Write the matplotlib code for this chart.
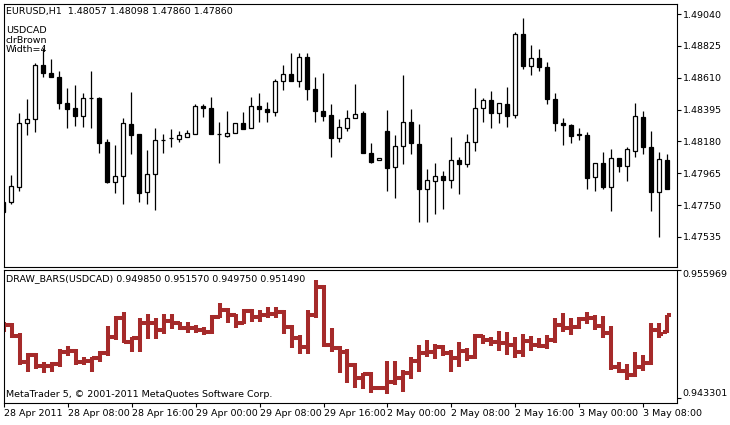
import matplotlib
matplotlib.use("Agg")
import matplotlib.pyplot as plt
import numpy as np

# EURUSD H1 candles (main panel)
eu_open = [1.47703,1.47771,1.47872,1.48304,1.48331,1.48696,1.48642,1.48615,1.48439,1.48406,
           1.48352,1.48473,1.48473,1.48176,1.47906,1.47946,1.48298,1.48230,1.47838,1.47960,
           1.48190,1.48203,1.48196,1.48210,1.48230,1.48419,1.48406,1.48230,1.48217,1.48237,
           1.48304,1.48271,1.48419,1.48399,1.48379,1.48588,1.48635,1.48588,1.48750,1.48534,
           1.48385,1.48358,1.48203,1.48271,1.48338,1.48372,1.48102,1.48055,1.48250,1.48007,
           1.48149,1.48311,1.48163,1.47859,1.47913,1.47946,1.47919,1.48055,1.48028,1.48176,
           1.48406,1.48460,1.48372,1.48433,1.48358,1.48905,1.48689,1.48743,1.48682,1.48466,
           1.48304,1.48291,1.48230,1.48223,1.47940,1.48034,1.47872,1.48068,1.48014,1.48115,
           1.48345,1.48143,1.47838,1.48057]
eu_high = [1.47785,1.47953,1.48372,1.48466,1.48709,1.48810,1.48736,1.48655,1.48540,1.48561,
           1.48507,1.48655,1.48480,1.48196,1.48156,1.48338,1.48514,1.48230,1.48122,1.48271,
           1.48230,1.48264,1.48250,1.48257,1.48433,1.48433,1.48480,1.48311,1.48385,1.48304,
           1.48379,1.48480,1.48507,1.48446,1.48601,1.48696,1.48777,1.48777,1.48777,1.48615,
           1.48642,1.48433,1.48331,1.48392,1.48568,1.48385,1.48170,1.48068,1.48392,1.48223,
           1.48628,1.48399,1.48298,1.47994,1.48034,1.47980,1.48210,1.48075,1.48230,1.48540,
           1.48473,1.48520,1.48439,1.48547,1.48919,1.49013,1.48831,1.48804,1.48716,1.48507,
           1.48338,1.48298,1.48271,1.48244,1.48034,1.48109,1.48129,1.48068,1.48143,1.48439,
           1.48385,1.48250,1.48109,1.48098]
eu_low = [1.47683,1.47758,1.47845,1.48223,1.48244,1.48615,1.48615,1.48399,1.48271,1.48284,
          1.48277,1.48271,1.48102,1.47899,1.47832,1.47758,1.48095,1.47771,1.47758,1.47717,
          1.48102,1.48143,1.48176,1.48210,1.48230,1.48345,1.48230,1.48034,1.48210,1.48237,
          1.48264,1.48271,1.48311,1.48311,1.48352,1.48527,1.48588,1.48547,1.48460,1.48311,
          1.48318,1.48075,1.48176,1.48250,1.48338,1.48102,1.48034,1.48055,1.47845,1.47798,
          1.48028,1.48095,1.47636,1.47636,1.47690,1.47724,1.47865,1.47825,1.48007,1.48115,
          1.48311,1.48271,1.48304,1.48277,1.48338,1.48669,1.48628,1.48655,1.48433,1.48250,
          1.48156,1.48170,1.48190,1.47859,1.47845,1.47859,1.47710,1.47974,1.47913,1.48075,
          1.48095,1.47710,1.47535,1.47860]
eu_close = [1.47771,1.47879,1.48304,1.48331,1.48696,1.48642,1.48615,1.48439,1.48399,1.48352,
            1.48473,1.48473,1.48170,1.47906,1.47946,1.48304,1.48223,1.47832,1.47960,1.48190,
            1.48190,1.48203,1.48223,1.48237,1.48419,1.48406,1.48230,1.48230,1.48237,1.48304,
            1.48264,1.48419,1.48399,1.48379,1.48588,1.48635,1.48588,1.48750,1.48534,1.48385,
            1.48352,1.48203,1.48277,1.48338,1.48365,1.48102,1.48041,1.48068,1.48001,1.48149,
            1.48311,1.48170,1.47859,1.47919,1.47946,1.47919,1.48055,1.48028,1.48176,1.48406,
            1.48460,1.48372,1.48439,1.48352,1.48905,1.48689,1.48743,1.48682,1.48466,1.48304,
            1.48291,1.48217,1.48223,1.47933,1.48034,1.47872,1.48068,1.48014,1.48129,1.48352,
            1.48143,1.47838,1.48061,1.47860]

# USDCAD bars (lower panel)
uc_open = [0.950524,0.950524,0.949468,0.946828,0.947554,0.946465,0.946465,0.946630,0.947818,0.947950,
           0.946894,0.946960,0.947224,0.947719,0.949369,0.951184,0.948874,0.949204,0.950689,0.950689,
           0.950029,0.950920,0.950689,0.950194,0.950260,0.950029,0.949864,0.951349,0.951976,0.951514,
           0.950689,0.951910,0.951349,0.951514,0.951580,0.951844,0.950359,0.949270,0.948379,0.951514,
           0.954319,0.948544,0.948214,0.947884,0.946564,0.945244,0.945640,0.944254,0.944254,0.944914,
           0.945244,0.945739,0.946960,0.947719,0.947884,0.948379,0.947719,0.947224,0.947950,0.947389,
           0.949435,0.949039,0.948874,0.948709,0.948544,0.947884,0.948940,0.948544,0.948478,0.949039,
           0.950524,0.950194,0.950359,0.951118,0.951184,0.950458,0.949699,0.946399,0.945970,0.945574,
           0.946399,0.946729,0.950029,0.949850]
uc_high = [0.950854,0.950689,0.949699,0.947719,0.947719,0.946828,0.946828,0.948148,0.948478,0.948148,
           0.947389,0.947389,0.947950,0.950458,0.951448,0.951844,0.949369,0.951184,0.951580,0.951184,
           0.951580,0.951580,0.950854,0.950788,0.950524,0.950359,0.951514,0.952669,0.952174,0.951580,
           0.952108,0.952108,0.952009,0.952339,0.952339,0.952009,0.950524,0.949534,0.952009,0.954979,
           0.954484,0.950194,0.948478,0.948148,0.946729,0.945739,0.945904,0.944485,0.946960,0.946960,
           0.946069,0.947389,0.948544,0.949039,0.948610,0.948544,0.948049,0.948874,0.948214,0.949600,
           0.949534,0.949336,0.949930,0.949864,0.949369,0.949600,0.949435,0.949270,0.949534,0.951250,
           0.951745,0.951184,0.951349,0.951844,0.951514,0.951415,0.950458,0.946894,0.946630,0.947884,
           0.947554,0.950689,0.950689,0.951570]
uc_low = [0.949798,0.949270,0.946564,0.945838,0.946135,0.945739,0.945838,0.946399,0.947488,0.946564,
          0.946564,0.945904,0.946828,0.947488,0.949039,0.948709,0.947818,0.947818,0.949138,0.949138,
          0.949600,0.950128,0.950029,0.949699,0.949699,0.949534,0.949600,0.951184,0.950689,0.950260,
          0.950590,0.950854,0.950854,0.951184,0.951184,0.949600,0.948214,0.947620,0.947620,0.951250,
          0.948379,0.947884,0.945739,0.944749,0.944254,0.944188,0.943759,0.944089,0.943660,0.944584,
          0.943858,0.945178,0.945904,0.947389,0.947125,0.947488,0.945904,0.946333,0.946993,0.947125,
          0.948610,0.948445,0.947950,0.947554,0.947224,0.947389,0.947950,0.948214,0.948148,0.948709,
          0.949864,0.949534,0.950128,0.950590,0.950029,0.949204,0.946069,0.945739,0.945079,0.945409,
          0.945970,0.946564,0.949204,0.949750]
uc_close = [0.950524,0.949468,0.946828,0.947554,0.946465,0.946465,0.946630,0.947818,0.947950,0.946894,
            0.946960,0.947224,0.947719,0.949369,0.951184,0.948874,0.949204,0.950689,0.950689,0.950029,
            0.950920,0.950689,0.950194,0.950260,0.950029,0.949864,0.951349,0.951976,0.951514,0.950689,
            0.951910,0.951349,0.951514,0.951580,0.951844,0.950359,0.949270,0.948379,0.951514,0.954319,
            0.948544,0.948214,0.947884,0.946564,0.945244,0.945640,0.944254,0.944254,0.944914,0.945244,
            0.945739,0.946960,0.947719,0.947884,0.948379,0.947719,0.947224,0.947950,0.947389,0.949435,
            0.949039,0.948874,0.948709,0.948544,0.947884,0.948940,0.948544,0.948478,0.949039,0.950524,
            0.950194,0.950359,0.951118,0.951184,0.950458,0.949699,0.946399,0.945970,0.945574,0.946399,
            0.946729,0.950029,0.949600,0.951490]

main_ticks = [1.49040, 1.48825, 1.48610, 1.48395, 1.48180, 1.47965, 1.47750, 1.47535]
sub_ticks = [0.955969, 0.943301]
time_labels = ["28 Apr 2011", "28 Apr 08:00", "28 Apr 16:00", "29 Apr 00:00", "29 Apr 08:00",
               "29 Apr 16:00", "2 May 00:00", "2 May 08:00", "2 May 16:00", "3 May 00:00", "3 May 08:00"]

W, H = 730, 425
fig = plt.figure(figsize=(W/100, H/100), dpi=100)
FS = 6.8
ax1 = fig.add_axes([4/W, 1-267/H, 673/W, 263/H])
ax2 = fig.add_axes([4/W, 1-403/H, 673/W, 133/H])

n = len(eu_open)
x = np.arange(n)
o = np.array(eu_open); c = np.array(eu_close)
ax1.vlines(x, eu_low, eu_high, color="black", lw=0.9, zorder=1)
bottoms = np.minimum(o, c)
heights = np.maximum(np.abs(c - o), 0.000015)
fc = ["white" if cc >= oo else "black" for oo, cc in zip(o, c)]
ax1.bar(x, heights, bottom=bottoms, width=0.6, color=fc, edgecolor="black", linewidth=0.9, zorder=2)
ax1.set_xlim(0.125 - 0.5 + 0.5 - 0.125 + 0.125 - 0.0, 84.25)
ax1.set_xlim(0.125, 84.25)
ax1.set_ylim(1.47332, 1.49108)

for i in range(n):
    ax2.plot([i, i], [uc_low[i], uc_high[i]], color="#A52A2A", lw=2.9, solid_capstyle="butt")
    ax2.plot([i - 0.5, i], [uc_open[i]] * 2, color="#A52A2A", lw=2.9, solid_capstyle="butt")
    ax2.plot([i, i + 0.5], [uc_close[i]] * 2, color="#A52A2A", lw=2.9, solid_capstyle="butt")
ax2.set_xlim(0.125, 84.25)
ax2.set_ylim(0.942802, 0.955969 + 0.00002)

for ax in (ax1, ax2):
    for s in ax.spines.values():
        s.set_linewidth(0.8)
        s.set_color("black")
    ax.yaxis.tick_right()
    ax.tick_params(axis="y", direction="out", length=3, width=0.8, labelsize=FS, pad=1)
    ax.tick_params(axis="x", bottom=False, labelbottom=False)

ax1.set_yticks(main_ticks)
ax1.set_yticklabels([f"{v:.5f}" for v in main_ticks])
ax2.set_yticks(sub_ticks)
ax2.set_yticklabels([f"{v:.6f}" for v in sub_ticks])
for lab, va in zip(ax2.get_yticklabels(), ["top", "bottom"]):
    lab.set_va(va)

tick_pos = list(range(0, n, 8))
ax2.set_xticks(tick_pos)
ax2.set_xticklabels(time_labels[:len(tick_pos)])
ax2.tick_params(axis="x", bottom=True, labelbottom=True, direction="out", length=3, width=0.8,
                labelsize=FS, pad=1)
for lab in ax2.get_xticklabels():
    lab.set_ha("left")

ax1.text(2/673, 0.99, "EURUSD,H1  1.48057 1.48098 1.47860 1.47860", transform=ax1.transAxes,
         fontsize=FS, va="top", ha="left")
ax1.text(2/673, 0.915, "USDCAD\nclrBrown\nWidth=4", transform=ax1.transAxes,
         fontsize=FS, va="top", ha="left", linespacing=1.05)
ax2.text(2/673, 0.97, "DRAW_BARS(USDCAD) 0.949850 0.951570 0.949750 0.951490", transform=ax2.transAxes,
         fontsize=FS, va="top", ha="left")
ax2.text(2/673, 0.03, "MetaTrader 5, \u00a9 2001-2011 MetaQuotes Software Corp.", transform=ax2.transAxes,
         fontsize=FS, va="bottom", ha="left")

fig.savefig("out.png", dpi=100, facecolor="white")
